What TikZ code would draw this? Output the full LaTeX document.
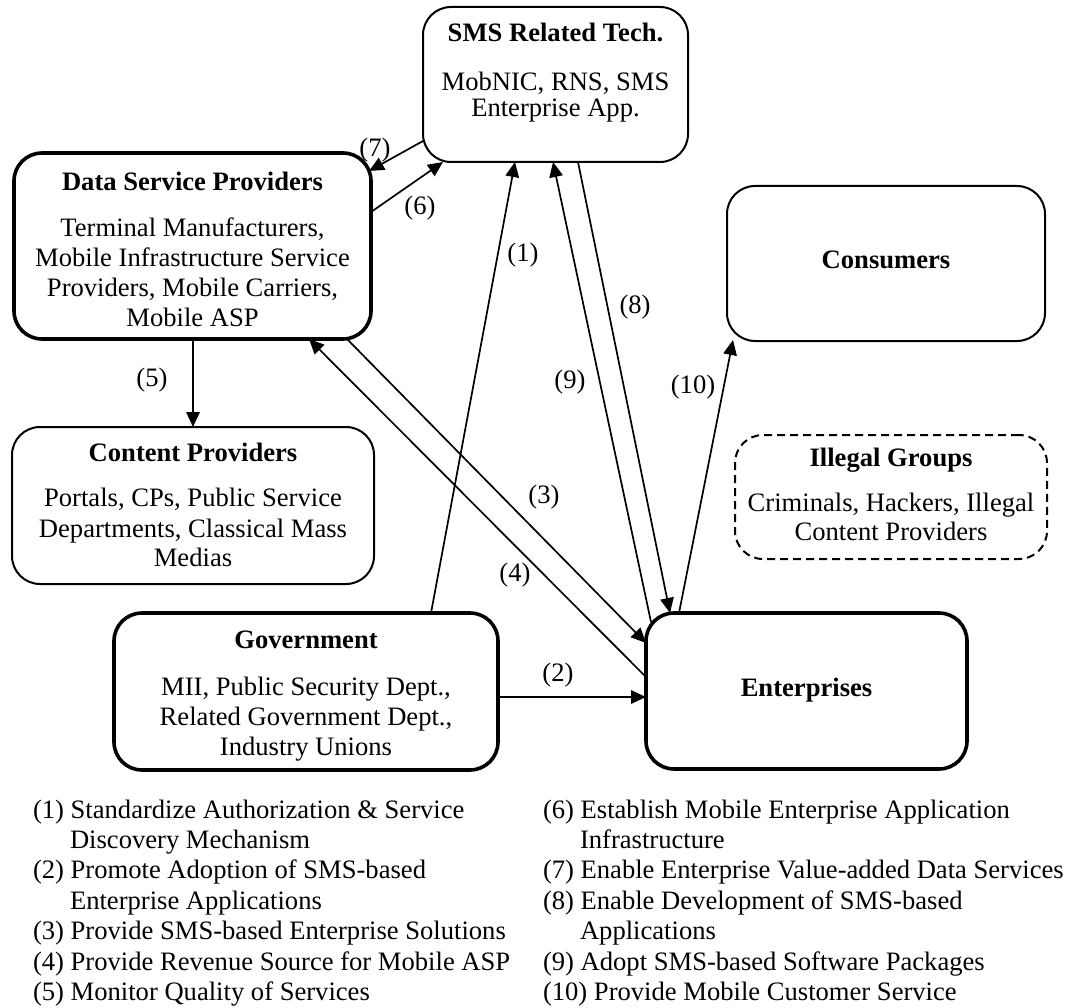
\documentclass[tikz,border=0pt]{standalone}
\usepackage{fontspec}
\setmainfont{Liberation Serif}
\usetikzlibrary{arrows.meta,calc}
\begin{document}
\begin{tikzpicture}[x=1pt,y=-1pt,
  every node/.style={font=\fontsize{26.6}{30}\selectfont, inner sep=0pt, outer sep=0pt},
  box/.style={draw, rounded corners=28pt, line width=2pt, anchor=center},
  thickbox/.style={box, line width=3.6pt},
  dashbox/.style={box, dash pattern=on 8pt off 5pt},
  ttl/.style={anchor=base, font=\fontsize{26.6}{30}\selectfont\bfseries},
  txt/.style={anchor=base},
  lbl/.style={anchor=center},
  leg/.style={anchor=base west},
  arr/.style={line width=1.7pt, -{Triangle[length=15pt,width=13.5pt]}},
]
\useasboundingbox (0,0) rectangle (1068,1008);

% ---------- boxes ----------
\node[box, minimum width=265pt, minimum height=155pt] (sms) at (555.5,84.5) {};
\node[thickbox, minimum width=357pt, minimum height=186pt] (dsp) at (192.5,246) {};
\node[box, minimum width=318pt, minimum height=155pt] (cons) at (886,263.5) {};
\node[box, minimum width=362pt, minimum height=157pt] (cont) at (193,505.5) {};
\node[dashbox, minimum width=312pt, minimum height=124pt] (ill) at (891,497) {};
\node[thickbox, minimum width=384pt, minimum height=157pt] (gov) at (306,691.5) {};
\node[thickbox, minimum width=321pt, minimum height=156pt] (ent) at (806.5,691) {};

% ---------- box texts ----------
\node[ttl] (smsT) at (555.5,41.5) {SMS Related Tech.};
\node[txt] (smsA) at (555.5,90.5) {MobNIC, RNS, SMS};
\node[txt] (smsB) at (555.5,117) {Enterprise App.};

\node[ttl] (dspT) at (192.5,190.5) {Data Service Providers};
\node[txt] (dspA) at (192.5,236.5) {Terminal Manufacturers,};
\node[txt] (dspB) at (192.5,266.5) {Mobile Infrastructure Service};
\node[txt] (dspC) at (192.5,296.5) {Providers, Mobile Carriers,};
\node[txt] (dspD) at (192.5,326.5) {Mobile ASP};

\node[ttl] (consT) at (886,268.5) {Consumers};

\node[ttl] (contT) at (193,461.5) {Content Providers};
\node[txt] (contA) at (193,506.5) {Portals, CPs, Public Service};
\node[txt] (contB) at (193,537) {Departments, Classical Mass};
\node[txt] (contC) at (193,566.5) {Medias};

\node[ttl] (illT) at (891,466.5) {Illegal Groups};
\node[txt] (illA) at (891,511.5) {Criminals, Hackers, Illegal};
\node[txt] (illB) at (891,540.5) {Content Providers};

\node[ttl] (govT) at (306,648.5) {Government};
\node[txt] (govA) at (306,695.5) {MII, Public Security Dept.,};
\node[txt] (govB) at (306,725.5) {Related Government Dept.,};
\node[txt] (govC) at (306,755.5) {Industry Unions};

\node[ttl] (entT) at (806.5,696.5) {Enterprises};

% ---------- connectors ----------
\draw[arr] ([xshift=125pt]gov.north) -- ([xshift=-40.5pt]sms.south);          % (1)
\draw[arr] ([yshift=-5.5pt]gov.east) -- ([yshift=-6pt]ent.west);               % (2)
\draw[arr] ([xshift=154.5pt]dsp.south) -- ([yshift=48pt]ent.west);             % (3)
\draw[arr] ([yshift=14pt]ent.west) -- ([xshift=116.5pt]dsp.south);             % (4)
\draw[arr] ([xshift=0.5pt]dsp.south) -- (cont.north);                          % (5)
\draw[arr] ([yshift=34pt]dsp.east) -- ([xshift=20pt]sms.south west);           % (6)
\draw[arr] ([yshift=-56.5pt]sms.west) -- ([xshift=-2pt,yshift=-18pt]dsp.north east); % (7)
\draw[arr] ([xshift=22.5pt]sms.south) -- ([xshift=-136.5pt]ent.north);         % (8)
\draw[arr] ([xshift=5pt,yshift=-9pt]ent.north west) -- ([xshift=-2.5pt]sms.south); % (9)
\draw[arr] ([xshift=-127.5pt]ent.north) -- ([xshift=6pt,yshift=1pt]cons.south west); % (10)

% ---------- connector labels ----------
\node[lbl] (l1) at (523,255) {(1)};
\node[lbl] (l2) at (558,675) {(2)};
\node[lbl] (l3) at (544,497) {(3)};
\node[lbl] (l4) at (515,575) {(4)};
\node[lbl] (l5) at (152,380) {(5)};
\node[lbl] (l6) at (420,208) {(6)};
\node[lbl] (l7) at (375,150) {(7)};
\node[lbl] (l8) at (635,307) {(8)};
\node[lbl] (l9) at (570,382) {(9)};
\node[lbl] (l10) at (693,387) {(10)};

% ---------- legend ----------
\node[leg] (g1a) at (33,818)   {(1) Standardize Authorization \& Service};
\node[leg] (g1b) at (70,848.4) {Discovery Mechanism};
\node[leg] (g2a) at (33,878.8) {(2) Promote Adoption of SMS-based};
\node[leg] (g2b) at (70,909.2) {Enterprise Applications};
\node[leg] (g3)  at (33,939.6) {(3) Provide SMS-based Enterprise Solutions};
\node[leg] (g4)  at (33,970)   {(4) Provide Revenue Source for Mobile ASP};
\node[leg] (g5)  at (33,1000.4) {(5) Monitor Quality of Services};

\node[leg] (g6a) at (543,818)   {(6) Establish Mobile Enterprise Application};
\node[leg] (g6b) at (580,848.4) {Infrastructure};
\node[leg] (g7)  at (543,878.8) {(7) Enable Enterprise Value-added Data Services};
\node[leg] (g8a) at (543,909.2) {(8) Enable Development of SMS-based};
\node[leg] (g8b) at (580,939.6) {Applications};
\node[leg] (g9)  at (543,970)   {(9) Adopt SMS-based Software Packages};
\node[leg] (g10) at (543,1000.4) {(10) Provide Mobile Customer Service};
\end{tikzpicture}
\end{document}
